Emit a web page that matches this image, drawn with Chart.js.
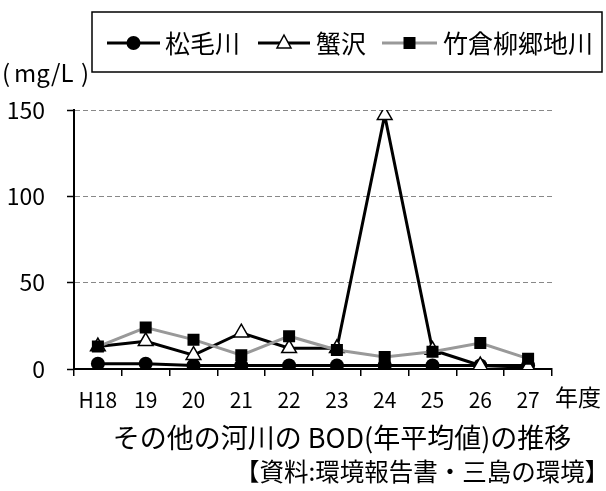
<!DOCTYPE html>
<html lang="ja">
<head>
<meta charset="utf-8">
<title>その他の河川の BOD(年平均値)の推移</title>
<script src="https://cdn.jsdelivr.net/npm/chart.js@4/dist/chart.umd.min.js"></script>
<style>
  html, body { margin: 0; padding: 0; background: #fff; }
  #wrap { position: relative; width: 606px; height: 491px; }
  canvas { display: block; }
</style>
</head>
<body>
<div id="wrap"><canvas id="c" width="606" height="491"></canvas></div>
<script>
// 年度
const years = ['H18', '19', '20', '21', '22', '23', '24', '25', '26', '27'];
// BOD 年平均値 (mg/L)
const matsukegawa = [3, 3, 2, 2, 2, 2, 2, 2, 2, 2];
const kanisawa = [13, 16, 8, 21, 12, 12, 147, 11, 2, 1];
const takekura = [13, 24, 17, 8, 19, 11, 7, 10, 15, 6];
const yTicks = [0, 50, 100, 150];

const seriesNames = ['松毛川', '蟹沢', '竹倉柳郷地川'];
const FONT = '"Noto Sans CJK JP", "Noto Sans", sans-serif';

function drawMarker(ctx, style, x, y) {
  ctx.save();
  ctx.lineWidth = 1.5;
  ctx.strokeStyle = '#000';
  ctx.beginPath();
  if (style === 'circle') {
    ctx.fillStyle = '#000';
    ctx.arc(x, y, 7, 0, Math.PI * 2);
    ctx.fill();
  } else if (style === 'triangle') {
    ctx.fillStyle = '#fff';
    ctx.moveTo(x, y - 8);
    ctx.lineTo(x + 7, y + 5);
    ctx.lineTo(x - 7, y + 5);
    ctx.closePath();
    ctx.fill();
    ctx.stroke();
  } else {
    ctx.fillStyle = '#000';
    ctx.rect(x - 6, y - 6, 12, 12);
    ctx.fill();
  }
  ctx.restore();
}

// 凡例・単位・表題などの文字
const decorations = {
  id: 'decorations',
  afterDraw(chart) {
    const ctx = chart.ctx;
    ctx.save();
    // 凡例枠
    ctx.strokeStyle = '#000';
    ctx.lineWidth = 1.5;
    ctx.strokeRect(92, 12, 510, 60);
    const ly = 43;
    const items = [
      { x1: 107, x2: 160, color: '#000', marker: 'circle', tx: 165 },
      { x1: 258, x2: 310, color: '#000', marker: 'triangle', tx: 316 },
      { x1: 382, x2: 437, color: '#999', marker: 'rect', tx: 443 }
    ];
    items.forEach((it, i) => {
      ctx.strokeStyle = it.color;
      ctx.lineWidth = 3;
      ctx.beginPath();
      ctx.moveTo(it.x1, ly);
      ctx.lineTo(it.x2, ly);
      ctx.stroke();
      drawMarker(ctx, it.marker, (it.x1 + it.x2) / 2, ly);
      ctx.fillStyle = '#000';
      ctx.font = '25px ' + FONT;
      ctx.textAlign = 'left';
      ctx.textBaseline = 'middle';
      ctx.fillText(seriesNames[i], it.tx, ly);
    });
    ctx.fillStyle = '#000';
    ctx.textBaseline = 'middle';
    // 単位 (括弧の前後に余白)
    ctx.font = '24px ' + FONT;
    ctx.textAlign = 'left';
    ctx.fillText('(', 2, 73);
    ctx.fillText('mg/L', 14, 73);
    ctx.textAlign = 'right';
    ctx.fillText(')', 89, 73);
    ctx.textAlign = 'left';
    ctx.font = '23px ' + FONT;
    ctx.fillText('年度', 555, 397);
    ctx.font = '27px ' + FONT;
    ctx.textAlign = 'center';
    ctx.fillText('その他の河川の BOD(年平均値)の推移', 342, 438);
    ctx.font = '24.5px ' + FONT;
    ctx.textAlign = 'left';
    ctx.fillText('【資料:環境報告書・三島の環境】', 235, 472);
    ctx.restore();
  }
};

new Chart(document.getElementById('c'), {
  type: 'line',
  data: {
    labels: years,
    datasets: [
      {
        label: seriesNames[0], data: matsukegawa, order: 2,
        borderColor: '#000', borderWidth: 3,
        pointStyle: 'circle', pointRadius: 7, pointHoverRadius: 7,
        pointBackgroundColor: '#000', pointBorderColor: '#000', pointBorderWidth: 0
      },
      {
        label: seriesNames[1], data: kanisawa, order: 1,
        borderColor: '#000', borderWidth: 3,
        pointStyle: 'triangle', pointRadius: 8.5, pointHoverRadius: 8.5,
        pointBackgroundColor: '#fff', pointBorderColor: '#000', pointBorderWidth: 1.5
      },
      {
        label: seriesNames[2], data: takekura, order: 0,
        borderColor: '#999', borderWidth: 3,
        pointStyle: 'rect', pointRadius: 8.5, pointHoverRadius: 8.5,
        pointBackgroundColor: '#000', pointBorderColor: '#000', pointBorderWidth: 0
      }
    ]
  },
  options: {
    responsive: false,
    animation: false,
    events: [],
    layout: { autoPadding: false, padding: { left: 0, top: 110, right: 54, bottom: 82 } },
    plugins: { legend: { display: false }, tooltip: { enabled: false } },
    elements: { line: { tension: 0 } },
    scales: {
      x: {
        type: 'category',
        offset: true,
        grid: {
          offset: true, drawOnChartArea: false, drawTicks: true,
          tickLength: 7, color: '#000', lineWidth: 1.5
        },
        border: { display: true, color: '#000', width: 2 },
        ticks: { color: '#000', font: { family: FONT, size: 21 }, padding: 11, maxRotation: 0, autoSkip: false },
        afterFit(scale) { scale.height = 40; }
      },
      y: {
        min: 0, max: 150,
        afterBuildTicks(scale) { scale.ticks = yTicks.map(v => ({ value: v })); },
        grid: {
          color: ctx => (ctx.tick && ctx.tick.value === 0) ? 'rgba(0,0,0,0)' : '#888',
          lineWidth: 1,
          tickLength: 7, tickColor: '#000', tickWidth: 1.5
        },
        border: { display: true, color: '#000', width: 2, dash: [5, 3] },
        ticks: { color: '#000', font: { family: FONT, size: 23 }, padding: 22 },
        afterFit(scale) { scale.width = 74; }
      }
    }
  },
  plugins: [decorations]
});
</script>
</body>
</html>
